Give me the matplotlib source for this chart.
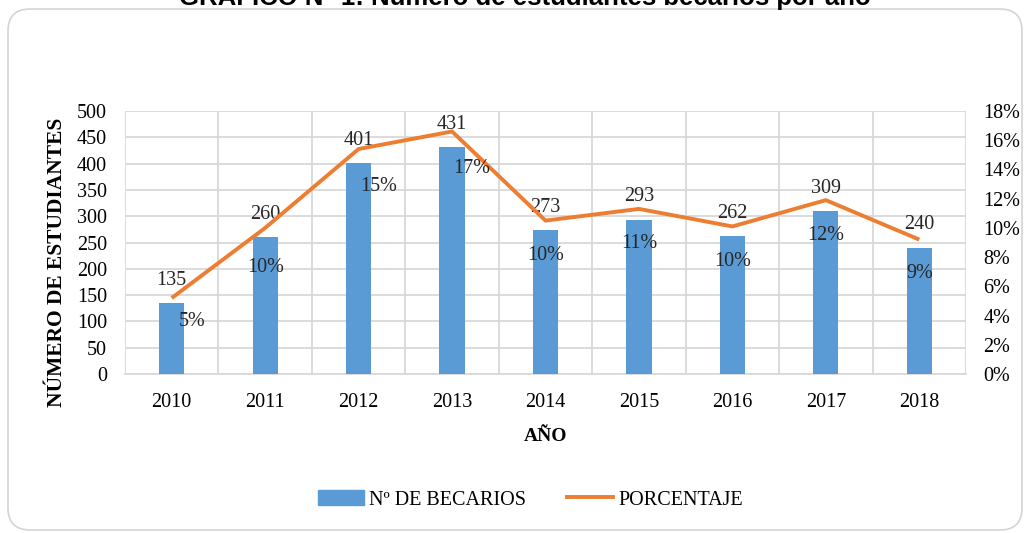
import numpy as np
import matplotlib
matplotlib.use('Agg')
import matplotlib.pyplot as plt
from matplotlib.patches import FancyBboxPatch, Patch
from matplotlib.lines import Line2D
from matplotlib.ticker import MultipleLocator, FuncFormatter

# datos
anios = ['2010', '2011', '2012', '2013', '2014', '2015', '2016', '2017', '2018']
becarios = [135, 260, 401, 431, 273, 293, 262, 309, 240]
porcentaje = [0.052, 0.100, 0.154, 0.166, 0.105, 0.113, 0.101, 0.119, 0.092]
etiquetas_pct = ['5%', '10%', '15%', '17%', '10%', '11%', '10%', '12%', '9%']

AZUL = '#5B9BD5'
NARANJA = '#ED7D31'
SERIF = 'Liberation Serif'

fig = plt.figure(figsize=(10.28, 5.33), dpi=100)

# marco redondeado de fondo (coordenadas en pixeles)
bg = fig.add_axes([0, 0, 1, 1], zorder=-5)
bg.set_xlim(0, 1028)
bg.set_ylim(533, 0)
bg.axis('off')
bg.add_patch(FancyBboxPatch((8, 9), 1014, 521,
                            boxstyle='round,pad=0,rounding_size=22',
                            fc='white', ec='#d4d4d4', lw=1.2))

# titulo (cortado arriba como en la imagen original)
fig.text(0.511, 0.9906, 'GRÁFICO N° 1: Número de estudiantes becarios por año',
         ha='center', va='baseline', fontsize=18.5, fontweight='bold',
         family='Liberation Sans')

ax = fig.add_axes([0.1216, 0.2983, 0.8181, 0.4934])
x = np.arange(len(anios))
ax.bar(x, becarios, width=0.27, color=AZUL, zorder=3)
ax.set_xlim(-0.5, len(anios) - 0.5)
ax.set_ylim(0, 500)
ax.yaxis.set_major_locator(MultipleLocator(50))
ax.set_xticks(x)
ax.set_xticklabels(anios)
ax.set_xticks(np.arange(-0.5, len(anios)), minor=True)
ax.grid(True, which='major', axis='y', color='#d9d9d9', lw=1.3, zorder=0)
ax.grid(True, which='minor', axis='x', color='#d9d9d9', lw=1.3, zorder=0)
ax.tick_params(which='both', length=0)
ax.tick_params(axis='x', pad=14, labelsize=14.5)
ax.tick_params(axis='y', pad=13, labelsize=14.5)
for lab in ax.get_xticklabels() + ax.get_yticklabels():
    lab.set_family(SERIF)
for s in ['top', 'right', 'left']:
    ax.spines[s].set_visible(False)
ax.spines['bottom'].set_color('#d9d9d9')
ax.spines['bottom'].set_linewidth(1.3)

fig.text(57 / 1028, 1 - 262 / 533, 'NÚMERO DE ESTUDIANTES', rotation=90,
         ha='center', va='center', family=SERIF, fontweight='bold', fontsize=15.5)
ax.set_xlabel('AÑO', family=SERIF, fontweight='bold', fontsize=14, labelpad=11)

for xi, v in zip(x, becarios):
    ax.annotate(str(v), (xi, v), xytext=(0, 23), textcoords='offset pixels',
                ha='center', va='center', fontsize=14.5, family=SERIF,
                color='#262626', zorder=6)

ax2 = ax.twinx()
ax2.set_ylim(0, 0.18)
ax2.yaxis.set_major_locator(MultipleLocator(0.02))
ax2.yaxis.set_major_formatter(FuncFormatter(lambda v, p: f'{v * 100:.0f}%'))
ax2.tick_params(length=0, pad=12.5, labelsize=14.5)
for lab in ax2.get_yticklabels():
    lab.set_family(SERIF)
for s in ax2.spines.values():
    s.set_visible(False)
ax2.plot(x, porcentaje, color=NARANJA, lw=2.8, zorder=5, solid_capstyle='butt')

# desplazamiento de las etiquetas de porcentaje (pixeles)
desp = [(20, -23), (0, -40), (20, -37), (20, -37), (0, -35),
        (0, -35), (0, -35), (0, -35), (0, -34)]
for xi, v, t, d in zip(x, porcentaje, etiquetas_pct, desp):
    ax2.annotate(t, (xi, v), xytext=d, textcoords='offset pixels',
                 ha='center', va='center', fontsize=14.5, family=SERIF,
                 color='#262626', zorder=6)

handles = [Patch(color=AZUL), Line2D([], [], color=NARANJA, lw=2.8)]
fig.legend(handles, ['Nº DE BECARIOS', 'PORCENTAJE'], loc='center',
           bbox_to_anchor=(0.516, 0.062), ncol=2, frameon=False,
           prop={'family': SERIF, 'size': 14.5}, handlelength=2.3,
           handleheight=0.7, handletextpad=0.25, columnspacing=2.0)

fig.savefig('out.png', dpi=100)
